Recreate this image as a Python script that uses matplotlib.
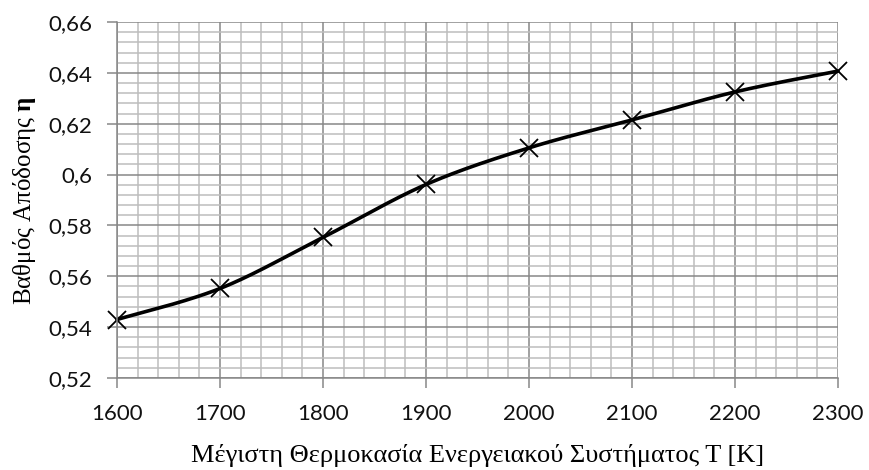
import numpy as np
import matplotlib
matplotlib.use("Agg")
import matplotlib.pyplot as plt
from matplotlib.ticker import MultipleLocator, FuncFormatter

# Maximum system temperature [K] and resulting efficiency
temperature = [1600, 1700, 1800, 1900, 2000, 2100, 2200, 2300]
efficiency = [0.543, 0.5552, 0.5753, 0.5961, 0.6105, 0.6215, 0.6325, 0.6407]

x_ticks = [1600, 1700, 1800, 1900, 2000, 2100, 2200, 2300]
y_ticks = [0.52, 0.54, 0.56, 0.58, 0.60, 0.62, 0.64, 0.66]

xlabel_text = "Μέγιστη Θερμοκασία Ενεργειακού Συστήματος Τ [K]"
ylabel_text = r"Βαθμός Απόδοσης $\mathbf{η}$"

plt.rcParams["mathtext.fontset"] = "custom"
plt.rcParams["mathtext.rm"] = "Liberation Serif"
plt.rcParams["mathtext.it"] = "Liberation Serif:italic"
plt.rcParams["mathtext.bf"] = "Liberation Serif:bold"


def smooth_curve(xs, ys, steps=40):
    """Cardinal (Catmull-Rom) Bezier smoothing through every point."""
    p = np.column_stack([xs, ys]).astype(float)
    n = len(p)
    out = [p[0]]
    t = np.linspace(0, 1, steps)[1:, None]
    for i in range(n - 1):
        p0 = p[i - 1] if i > 0 else p[i]
        p1, p2 = p[i], p[i + 1]
        p3 = p[i + 2] if i + 2 < n else p[i + 1]
        c1 = p1 + (p2 - p0) / 6.0
        c2 = p2 - (p3 - p1) / 6.0
        seg = ((1 - t) ** 3) * p1 + 3 * ((1 - t) ** 2) * t * c1 \
            + 3 * (1 - t) * t ** 2 * c2 + t ** 3 * p2
        out.extend(seg)
    out = np.array(out)
    return out[:, 0], out[:, 1]


fig = plt.figure(figsize=(8.7, 4.7), dpi=100)
ax = fig.add_axes([117 / 870, 1 - 378 / 470, (838 - 117) / 870, (378 - 22) / 470])

ax.set_xlim(x_ticks[0], x_ticks[-1])
ax.set_ylim(y_ticks[0], y_ticks[-1])
ax.set_xticks(x_ticks)
ax.set_yticks(y_ticks)
ax.xaxis.set_minor_locator(MultipleLocator(20))
ax.yaxis.set_minor_locator(MultipleLocator(0.004))

ax.grid(which="minor", color="#bdbdbd", linewidth=1.1)
ax.grid(which="major", color="#878787", linewidth=1.1)
ax.set_axisbelow(True)

for side in ("top", "right"):
    ax.spines[side].set_visible(False)
for side in ("left", "bottom"):
    ax.spines[side].set_color("#878787")
    ax.spines[side].set_linewidth(1.1)

ax.tick_params(which="major", direction="out", length=7, width=1.1,
               color="#878787", labelsize=16, labelcolor="#111111", pad=11)
ax.tick_params(which="minor", length=0)
ax.tick_params(axis="x", pad=12)
for lab in ax.get_xticklabels() + ax.get_yticklabels():
    lab.set_family("Lato")

ax.yaxis.set_major_formatter(FuncFormatter(lambda v, _: f"{v:g}".replace(".", ",")))
ax.xaxis.set_major_formatter(FuncFormatter(lambda v, _: f"{int(round(v))}"))

sx, sy = smooth_curve(temperature, efficiency)
ax.plot(sx, sy, color="black", linewidth=2.6, solid_capstyle="round", clip_on=False)
ax.plot(temperature, efficiency, linestyle="none", marker="x", markersize=13,
        markeredgewidth=1.3, color="black", clip_on=False)

ax.set_xlabel(xlabel_text, family="Liberation Serif", fontsize=19, labelpad=14)
ax.set_ylabel(ylabel_text, family="Liberation Serif", fontsize=18, labelpad=7)

fig.savefig("out.png", dpi=100, facecolor="white")
